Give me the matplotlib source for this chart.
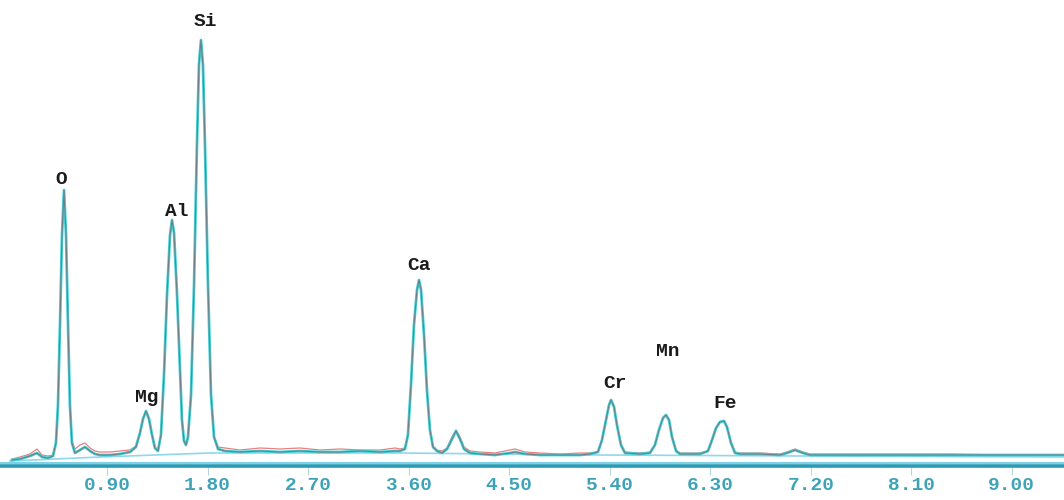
"""
EDS 能谱图复刻：O / Mg / Al / Si / Ca / Cr / Mn / Fe 峰
"""
import matplotlib
matplotlib.use('Agg')
import matplotlib.pyplot as plt

# ============================================================
# 数据
# ============================================================
energy_kev = [
    0.049, 0.121, 0.210, 0.273, 0.318, 0.372, 0.416, 0.443, 0.461, 0.479,
    0.497, 0.515, 0.533, 0.551, 0.568, 0.586, 0.613, 0.658, 0.703, 0.748,
    0.792, 0.837, 0.927, 1.016, 1.106, 1.159, 1.195, 1.222, 1.249, 1.276,
    1.303, 1.329, 1.356, 1.383, 1.410, 1.437, 1.464, 1.482, 1.500, 1.527,
    1.553, 1.571, 1.589, 1.607, 1.625, 1.652, 1.679, 1.705, 1.723, 1.741,
    1.759, 1.777, 1.804, 1.831, 1.858, 1.894, 1.956, 2.090, 2.270, 2.449,
    2.627, 2.807, 2.986, 3.165, 3.344, 3.478, 3.523, 3.567, 3.594, 3.621,
    3.648, 3.675, 3.693, 3.711, 3.738, 3.764, 3.791, 3.818, 3.854, 3.899,
    3.944, 3.988, 4.024, 4.060, 4.096, 4.150, 4.239, 4.373, 4.508, 4.552,
    4.642, 4.776, 4.955, 5.134, 5.224, 5.295, 5.331, 5.367, 5.394, 5.412,
    5.439, 5.465, 5.501, 5.537, 5.671, 5.761, 5.805, 5.841, 5.877, 5.904,
    5.931, 5.958, 5.994, 6.029, 6.208, 6.280, 6.316, 6.352, 6.387, 6.423,
    6.450, 6.486, 6.522, 6.566, 6.745, 6.925, 6.987, 7.059, 7.130, 7.193,
    7.551, 8.000, 8.447, 8.895, 9.467,
]

# 实测谱（计数，任意单位）
counts = [
    5, 6, 9, 12, 8, 7, 9, 22, 60, 140,
    230, 275, 230, 140, 60, 22, 12, 15, 18, 14,
    11, 10, 10, 11, 13, 18, 32, 46, 54, 46,
    30, 17, 14, 30, 90, 170, 230, 245, 232, 170,
    95, 45, 24, 20, 28, 70, 180, 320, 400, 425,
    400, 320, 180, 70, 28, 16, 14, 13, 14, 13,
    14, 13, 13, 14, 13, 14, 14, 16, 30, 80,
    140, 175, 185, 175, 130, 75, 35, 18, 14, 12,
    16, 26, 34, 26, 16, 12, 11, 10, 12, 13,
    11, 10, 10, 10, 11, 13, 25, 45, 60, 65,
    58, 40, 20, 12, 11, 12, 20, 35, 47, 50,
    45, 28, 14, 11, 11, 14, 25, 37, 43, 44,
    38, 22, 12, 11, 11, 10, 12, 15, 12, 10,
    10, 10, 10, 10, 10,
]

# 原始噪声（红色，基线区域略高）
raw_counts = [
    6, 8, 11, 16, 10, 9, 10, 22, 60, 140,
    230, 275, 230, 140, 60, 24, 16, 20, 22, 17,
    14, 13, 13, 14, 15, 19, 32, 46, 54, 46,
    30, 18, 15, 30, 90, 170, 230, 245, 232, 170,
    95, 45, 25, 21, 28, 70, 180, 320, 400, 425,
    400, 320, 180, 70, 28, 18, 17, 15, 17, 16,
    17, 15, 16, 15, 15, 17, 16, 17, 30, 80,
    140, 175, 185, 175, 130, 75, 35, 19, 15, 14,
    17, 28, 35, 28, 18, 14, 13, 12, 15, 16,
    13, 12, 11, 12, 12, 13, 25, 45, 60, 65,
    58, 40, 20, 13, 12, 13, 20, 35, 47, 50,
    45, 28, 15, 12, 12, 14, 25, 37, 43, 44,
    38, 22, 13, 12, 12, 11, 13, 16, 13, 11,
    11, 11, 11, 10, 10,
]

# 背景连续谱
bg_energy = [0.03, 0.84, 1.82, 3.52, 5.32, 7.14, 9.47]
bg_counts = [4, 8, 12, 12, 10, 9, 8]

# 元素标注
elements   = ['O', 'Mg', 'Al', 'Si', 'Ca', 'Cr', 'Mn', 'Fe']
label_x    = [0.49, 1.26, 1.52, 1.78, 3.69, 5.45, 5.92, 6.43]
label_y    = [286, 68, 254, 443, 199, 82, 113, 61]

# 刻度
tick_vals   = [0.90, 1.80, 2.70, 3.60, 4.50, 5.40, 6.30, 7.20, 8.10, 9.00]
tick_labels = ['0.90', '1.80', '2.70', '3.60', '4.50',
               '5.40', '6.30', '7.20', '8.10', '9.00']

MONO = ['Liberation Mono', 'DejaVu Sans Mono']

fig = plt.figure(figsize=(10.64, 5.0), dpi=100)
ax = fig.add_axes([0.0, 0.058, 1.0, 0.942])

ax.plot(energy_kev, raw_counts, color='#e88080', lw=0.9, zorder=2)
ax.plot(energy_kev, counts, color='#3fd2d8', lw=2.0, zorder=3)
ax.plot(energy_kev, counts, color='#6f8088', lw=0.8, zorder=4)
ax.plot(bg_energy, bg_counts, color='#8fd8ec', lw=1.2, zorder=1)

# 双线横轴
ax.axhline(2, color='#7fd0e6', lw=1.5, zorder=5)
ax.axhline(-1, color='#2a9cb4', lw=2.6, zorder=5)

for name, x, y in zip(elements, label_x, label_y):
    ax.text(x, y, name, ha='center', va='center', fontsize=14,
            fontweight='bold', family=MONO, color='#1a1a1a')

ax.set_xlim(-0.058, 9.467)
ax.set_ylim(-6, 465)
ax.set_xticks(tick_vals)
ax.set_xticklabels(tick_labels, family=MONO, fontsize=14,
                   color='#3fa3b8', fontweight='bold')
ax.tick_params(axis='x', length=6, direction='inout', color='#b8d8d8',
               pad=1)
ax.set_yticks([])
for s in ax.spines.values():
    s.set_visible(False)

plt.savefig('out.png', dpi=100)
